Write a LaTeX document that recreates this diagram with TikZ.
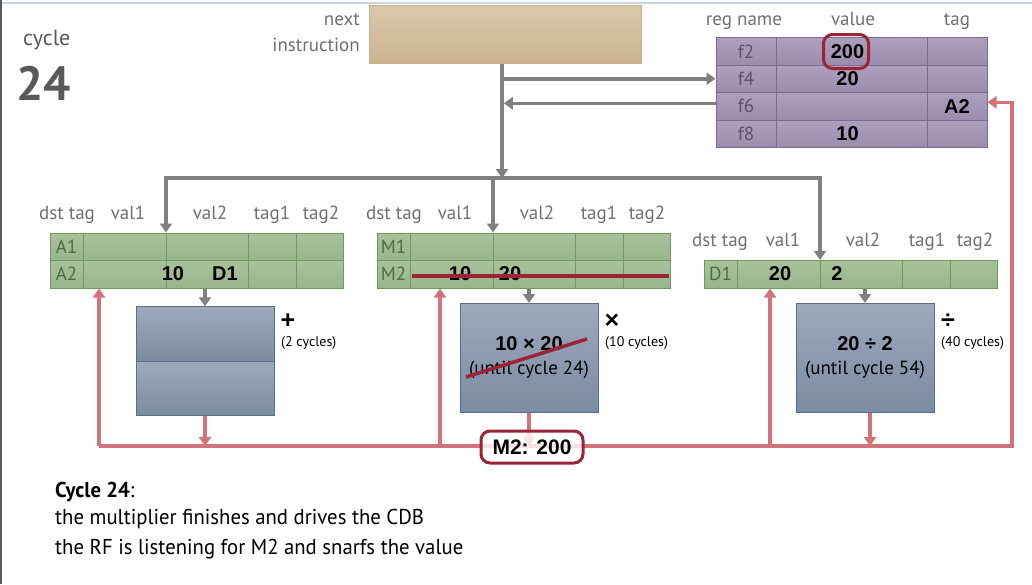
\documentclass[tikz,border=0pt]{standalone}
\usepackage{fontspec}
\setmainfont{PT Sans}
\newfontfamily\arialfont{Liberation Sans}
\newfontfamily\notefont{PT Sans}[FakeStretch=0.965]
\usetikzlibrary{arrows.meta,calc}

\definecolor{tanTop}{HTML}{D9C9AB}
\definecolor{tanBot}{HTML}{CCB390}
\definecolor{tanLine}{HTML}{C9B18C}
\definecolor{rfTop}{HTML}{ADA0BC}
\definecolor{rfBot}{HTML}{9B8CAD}
\definecolor{rfLine}{HTML}{7B6B93}
\definecolor{rfText}{HTML}{5E4E75}
\definecolor{rsTop}{HTML}{A8C29C}
\definecolor{rsBot}{HTML}{98B58B}
\definecolor{rsLine}{HTML}{6F9A5F}
\definecolor{rsText}{HTML}{4D6E3D}
\definecolor{fuTop}{HTML}{9EA9BB}
\definecolor{fuBot}{HTML}{7B8BA3}
\definecolor{fuLine}{HTML}{5A6C86}
\definecolor{hdrGray}{HTML}{707070}
\definecolor{issueGray}{HTML}{808080}
\definecolor{cdbRed}{HTML}{D4727B}
\definecolor{markRed}{HTML}{9B2436}
\definecolor{frameBlue}{HTML}{C8D4E6}

\begin{document}
\begin{tikzpicture}[x=1pt,y=-1pt,
    rfcell/.style={draw=rfLine, line width=1, top color=rfTop, bottom color=rfBot,
      minimum height=27.5, inner sep=0, text=rfText, font=\fontsize{19}{21}\selectfont},
    rscell/.style={draw=rsLine, line width=1, top color=rsTop, bottom color=rsBot,
      minimum height=27.5, inner sep=0, anchor=north west},
    rsname/.style={text=rsText, font=\fontsize{19}{21}\selectfont, inner sep=0},
    fubox/.style={draw=fuLine, line width=1, top color=fuTop, bottom color=fuBot,
      minimum width=138, inner sep=0, align=center, font=\fontsize{19}{24}\selectfont},
    hdr/.style={text=hdrGray, font=\fontsize{19}{21}\selectfont, inner sep=0, anchor=base},
    val/.style={font=\arialfont\bfseries\fontsize{20}{22}\selectfont, inner sep=0},
    opsym/.style={font=\arialfont\bfseries\fontsize{25}{27}\selectfont, inner sep=0},
    lat/.style={font=\fontsize{14}{16}\selectfont, inner sep=0, anchor=west},
    issue/.style={draw=issueGray, line width=3.5, -{Triangle[width=12pt,length=9pt]}},
    cdb/.style={draw=cdbRed, line width=3.5, -{Triangle[width=12pt,length=9pt]}},
    strike/.style={draw=markRed, line width=3.5},
    note/.style={font=\notefont\fontsize{21.5}{26}\selectfont, inner sep=0, anchor=base west}]

  \useasboundingbox (0,0) rectangle (1032,584);
  % slide frame
  \draw[frameBlue, line width=1.5] (0,3) -- (1032,3);
  \draw[black!65, line width=1.5] (0.75,0) -- (0.75,584);

  % cycle counter
  \node[hdr, anchor=base west, font=\fontsize{22}{24}\selectfont, text=black!65] (cyclelbl) at (23,45) {cycle};
  \node[anchor=base west, inner sep=0, font=\bfseries\fontsize{48}{50}\selectfont, text=black!65] (cyclenum) at (16,100) {24};

  % next instruction
  \node[draw=tanLine, line width=1, top color=tanTop, bottom color=tanBot,
    minimum width=272, minimum height=58, inner sep=0] (nextinstr) at (505,34) {};
  \node[hdr, anchor=base east] (nextlbl) at (360,25) {next};
  \node[hdr, anchor=base east] (instrlbl) at (360,51.5) {instruction};

  % register file
  \node[hdr] (rfh1) at (744,25) {reg name};
  \node[hdr] (rfh2) at (853,25) {value};
  \node[hdr] (rfh3) at (957,25) {tag};
  \foreach \n/\v/\t [count=\i] in {f2/200/,f4/20/,f6//A2,f8/10/} {
    \node[rfcell, minimum width=60] (rfname\i) at (746,{37.5+27.5*(\i-1)+13.75}) {\n};
    \node[rfcell, minimum width=151] (rfval\i) at (851.5,{37.5+27.5*(\i-1)+13.75}) {};
    \node[rfcell, minimum width=60] (rftag\i) at (957,{37.5+27.5*(\i-1)+13.75}) {};
    \node[val] at ([xshift=-4pt]rfval\i) {\v};
    \node[val] at (rftag\i) {\t};
  }
  \node[draw=markRed, line width=3, rounded corners=9, minimum width=45, minimum height=34] (hilite) at (846,51.5) {};
  \coordinate (rfout) at ([yshift=3pt]rfname3.west);
  \coordinate (rfsnoop) at ([yshift=4pt]rftag3.east);

  % reservation stations
  \begin{scope}[shift={(50,232.5)}, name prefix=add-]
    \foreach \r in {1,2}
      \foreach \c/\x/\w in {1/0/33,2/33/83,3/116/82,4/198/48,5/246/47}
        \node[rscell, minimum width=\w] (r\r-c\c) at (\x,{27.5*(\r-1)}) {};
    \foreach \t/\x [count=\i] in {dst tag/17,val1/78,val2/160,tag1/222,tag2/271}
      \node[hdr] (h\i) at (\x,-13.5) {\t};
    \node[rsname] at (16.5,13.75) {A1};
    \node[rsname] at (16.5,41.25) {A2};
    \node[val] at (123,41.25) {10};
    \node[val] at (175,41.25) {D1};
  \end{scope}

  \begin{scope}[shift={(377,232.5)}, name prefix=mul-]
    \foreach \r in {1,2}
      \foreach \c/\x/\w in {1/0/33,2/33/83,3/116/82,4/198/48,5/246/47}
        \node[rscell, minimum width=\w] (r\r-c\c) at (\x,{27.5*(\r-1)}) {};
    \foreach \t/\x [count=\i] in {dst tag/17,val1/78,val2/160,tag1/222,tag2/270}
      \node[hdr] (h\i) at (\x,-13.5) {\t};
    \node[rsname] at (16.5,13.75) {M1};
    \node[rsname] at (16.5,41.25) {M2};
    \node[val] at (83,41.25) {10};
    \node[val] at (133,41.25) {20};
  \end{scope}

  \begin{scope}[shift={(704,260)}, name prefix=div-]
    \foreach \c/\x/\w in {1/0/33,2/33/83,3/116/82,4/198/48,5/246/47}
      \node[rscell, minimum width=\w] (r1-c\c) at (\x,0) {};
    \foreach \t/\x [count=\i] in {dst tag/16,val1/79,val2/159,tag1/223,tag2/271}
      \node[hdr] (h\i) at (\x,-13.5) {\t};
    \node[rsname] at (16.5,13.75) {D1};
    \node[val] at (76,13.75) {20};
    \node[val] at (133,13.75) {2};
  \end{scope}

  % cancelled entry
  \draw[strike] ([xshift=2pt,yshift=-1.5pt]mul-r2-c2.west) -- ([xshift=-2pt,yshift=-1.5pt]mul-r2-c5.east);

  % functional units
  \node[fubox, minimum height=54.5] (addtop) at (205,334) {};
  \node[fubox, minimum height=54.5] (addbot) at (205,388.5) {};
  \node[opsym] (addop) at (288,321) {+};
  \node[lat] (addlat) at (281,343) {(2 cycles)};

  \node[fubox, minimum height=109] (mulfu) at (529,358)
    {{\arialfont\bfseries\fontsize{20}{24}\selectfont 10 × 20}\\(until cycle 24)};
  \draw[strike] (466,377) -- (587,339);
  \node[opsym] (mulop) at (612,321) {×};
  \node[lat] (mullat) at (605,343) {(10 cycles)};

  \node[fubox, minimum height=109] (divfu) at (865,358)
    {{\arialfont\bfseries\fontsize{20}{24}\selectfont 20 ÷ 2}\\(until cycle 54)};
  \node[opsym] (divop) at (948,321) {÷};
  \node[lat] (divlat) at (941,343) {(40 cycles)};

  % issue path
  \coordinate (split) at (502,178);
  \draw[issue] (nextinstr.south -| split) -- (split);
  \draw[issue] (split |- rfname2.west) -- (rfname2.west);
  \draw[issue, shorten >=1.75pt] (rfout) -- (split |- rfout);
  \draw[issue, {Triangle[width=12pt,length=9pt]}-{Triangle[width=12pt,length=9pt]}, line join=miter]
    (add-r1-c3.north west) |- (split) -| (div-r1-c3.north west);
  \draw[issue] (split -| mul-r1-c3.north west) -- (mul-r1-c3.north west);

  % dispatch into the units
  \draw[issue] (addtop.north |- add-r2-c1.south) -- (addtop.north);
  \draw[issue] (mulfu.north |- mul-r2-c1.south) -- (mulfu.north);
  \draw[issue] (divfu.north |- div-r1-c1.south) -- (divfu.north);

  % common data bus
  \coordinate (cdbleft) at (99,446);
  \coordinate (cdbright) at (1012,446);
  \coordinate (tapmul) at (440,446);
  \coordinate (tapdiv) at (770,446);
  \draw[cdb, line join=miter] (cdbleft) -- (cdbright) |- (rfsnoop);
  \draw[cdb] (cdbleft) -- (cdbleft |- add-r2-c1.south);
  \draw[cdb] (tapmul) -- (tapmul |- mul-r2-c1.south);
  \draw[cdb] (tapdiv) -- (tapdiv |- div-r1-c1.south);
  \draw[cdb] (addbot.south) -- (addbot.south |- cdbleft);
  \draw[cdb] (mulfu.south) -- (mulfu.south |- cdbleft);
  \draw[cdb] ([xshift=5pt]divfu.south) -- ([xshift=5pt]divfu.south |- cdbleft);
  \node[draw=markRed, line width=3, rounded corners=9, fill=white, fill opacity=0.8, text opacity=1,
    minimum width=102, minimum height=32, inner sep=0,
    font=\arialfont\bfseries\fontsize{21}{23}\selectfont] (bcast) at (532,447) {M2: 200};

  % explanation
  \node[note] (note1) at (55,497) {\textbf{Cycle 24}:};
  \node[note] (note2) at (55,524) {the multiplier finishes and drives the CDB};
  \node[note] (note3) at (55,554) {the RF is listening for M2 and snarfs the value};
\end{tikzpicture}
\end{document}
